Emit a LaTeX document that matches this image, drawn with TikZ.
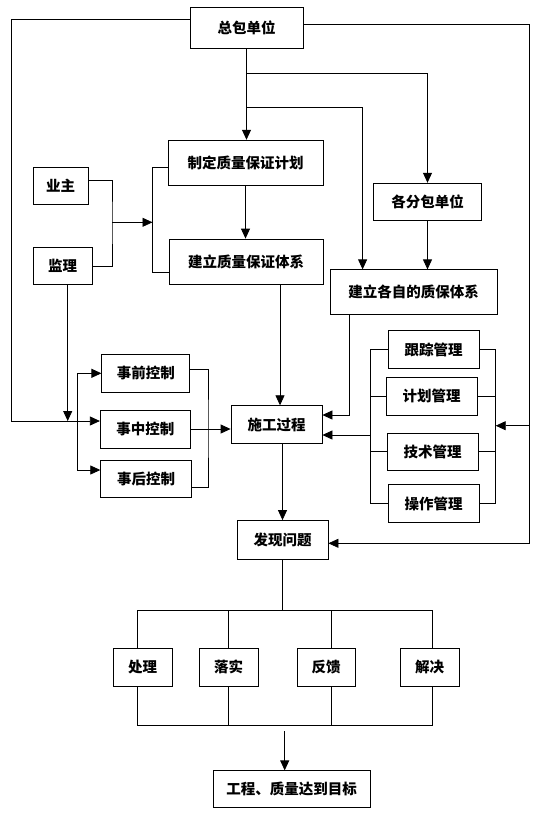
\documentclass[tikz,border=0pt]{standalone}
\usepackage{fontspec}
\newfontfamily\cjk{Noto Sans CJK SC}
\usetikzlibrary{calc, arrows.meta}

\tikzset{
  box/.style={draw, line width=0.8pt, inner sep=0pt, font=\cjk\fontsize{14.5pt}{16pt}\selectfont\bfseries},
  arr/.style={-{Triangle[length=10pt,width=9pt]}}
}

\begin{document}
\begin{tikzpicture}[x=1pt, y=-1pt, line width=0.8pt]
    \useasboundingbox (0,0) rectangle (555,820);
    % Boxes
    \node[box, minimum width=113pt, minimum height=41pt] (zb) at (246.5,27.8) {总包单位};
    \node[box, minimum width=155pt, minimum height=45pt] (zd) at (245.5,162.7) {制定质量保证计划};
    \node[box, minimum width=154pt, minimum height=45pt] (jl) at (246,261.5) {建立质量保证体系};
    \node[box, minimum width=55pt, minimum height=37pt] (yz) at (60.5,186) {业主};
    \node[box, minimum width=59pt, minimum height=37pt] (jli) at (62.7,266.3) {监理};
    \node[box, minimum width=108pt, minimum height=37pt] (fb) at (427.5,201.7) {各分包单位};
    \node[box, minimum width=167pt, minimum height=45pt] (gz) at (413.5,292.3) {建立各自的质保体系};
    \node[box, minimum width=91pt, minimum height=38pt] (sg) at (276.5,424.7) {施工过程};
    \node[box, minimum width=88pt, minimum height=38pt] (sq) at (145.8,373.3) {事前控制};
    \node[box, minimum width=90pt, minimum height=38pt] (sz) at (145.3,429) {事中控制};
    \node[box, minimum width=91pt, minimum height=37pt] (sh) at (146.2,478.5) {事后控制};
    \node[box, minimum width=91pt, minimum height=38pt] (gzl) at (433.5,349.5) {跟踪管理};
    \node[box, minimum width=91pt, minimum height=38pt] (jh) at (431.5,396.3) {计划管理};
    \node[box, minimum width=91pt, minimum height=37pt] (js) at (432.5,451.8) {技术管理};
    \node[box, minimum width=91pt, minimum height=38pt] (cz) at (433.5,503.8) {操作管理};
    \node[box, minimum width=91pt, minimum height=39pt] (fx) at (282.5,540) {发现问题};
    \node[box, minimum width=59pt, minimum height=38pt] (cl) at (142.5,667) {处理};
    \node[box, minimum width=59pt, minimum height=38pt] (ls) at (228.5,667) {落实};
    \node[box, minimum width=58pt, minimum height=38pt] (fk) at (326,667) {反馈};
    \node[box, minimum width=59pt, minimum height=38pt] (jj) at (429.5,667) {解决};
    \node[box, minimum width=157pt, minimum height=37pt] (mb) at (291.5,789.3) {工程、质量达到目标};
    % Junctions
    \coordinate (j1) at (246.5,73.3);
    \coordinate (j2) at (246.5,107.3);
    \coordinate (gzin) at ($(gz.north west)+(33,0)$);
    \coordinate (jy) at (112,222.3);
    \coordinate (kb) at (152.5,222.3);
    \coordinate (sgin) at ($(sg.north)+(3.5,0)$);
    \coordinate (gzout) at ($(gz.south west)+(20,0)$);
    \coordinate (lc) at (11,421);
    \coordinate (kl) at (77.7,421);
    \coordinate (kr) at (208,429);
    \coordinate (jlout) at ($(jli.south)+(5,0)$);
    \coordinate (ml) at (370.6,435);
    \coordinate (mr) at (495.7,425.7);
    \coordinate (rc) at (529,543.3);
    \coordinate (rb) at (529,425.7);
    \coordinate (tt) at (282.5,610.7);
    \coordinate (bb) at (284.7,725.7);
    \coordinate (ba) at (284.7,731);
    % Top part
    \draw[arr] (zb.south) -- (zb.south |- zd.north);
    \draw[arr] (j1) -| (fb.north);
    \draw[arr] (j2) -| (gzin);
    \draw[arr] (fb.south) -- (fb.south |- gz.north);
    \draw[arr] (zd.south) -- (zd.south |- jl.north);
    \draw ([yshift=6pt]yz.east) -| (jy) |- (jli.east);
    \draw[arr] (jy) -- (kb);
    \draw ([yshift=-5pt]zd.west) -| (kb) |- ([yshift=-11pt]jl.west);
    \draw[arr] (jl.south -| sgin) -- (sgin);
    \draw[arr] (gzout) |- ([yshift=9.7pt]sg.east);
    % Outer lines
    \draw[arr] ([yshift=8.5pt]zb.west) -| (lc) -- ([yshift=8pt]sz.west);
    \draw[arr] ([yshift=3.8pt]zb.east) -| (rc) -- (rc -| fx.east);
    \draw[arr] (rb) -- (mr);
    \draw[arr] (jlout) -- (jlout |- lc);
    % Control boxes
    \draw[arr] (kl) |- (sq.west);
    \draw[arr] (kl) |- ([yshift=8.5pt]sh.west);
    \draw ([yshift=4pt]sq.east) -| (kr) |- ([yshift=-9pt]sh.east);
    \draw[arr] (sz.east) -- (sz.east -| sg.west);
    % Management boxes
    \draw (gzl.west) -| (ml) |- (cz.west);
    \draw (jh.west) -- (jh.west -| ml);
    \draw (js.west) -- (js.west -| ml);
    \draw[arr] (ml) -- (sg.east |- ml);
    \draw (gzl.east) -| (mr) |- (cz.east);
    \draw (jh.east) -- (jh.east -| mr);
    \draw (js.east) -- (js.east -| mr);
    % Bottom part
    \draw[arr] (fx.north |- sg.south) -- (fx.north);
    \draw (fx.south) -- (tt);
    \draw ([xshift=-5.5pt]cl.north) |- (tt) -| ([xshift=2.5pt]jj.north);
    \draw (ls.north) -- (ls.north |- tt);
    \draw ([xshift=5pt]fk.north) -- ([xshift=5pt]fk.north |- tt);
    \draw ([xshift=-5.5pt]cl.south) |- (bb) -| ([xshift=2.5pt]jj.south);
    \draw (ls.south) -- (ls.south |- bb);
    \draw ([xshift=5pt]fk.south) -- ([xshift=5pt]fk.south |- bb);
    \draw[arr] (ba) -- (ba |- mb.north);
\end{tikzpicture}
\end{document}
